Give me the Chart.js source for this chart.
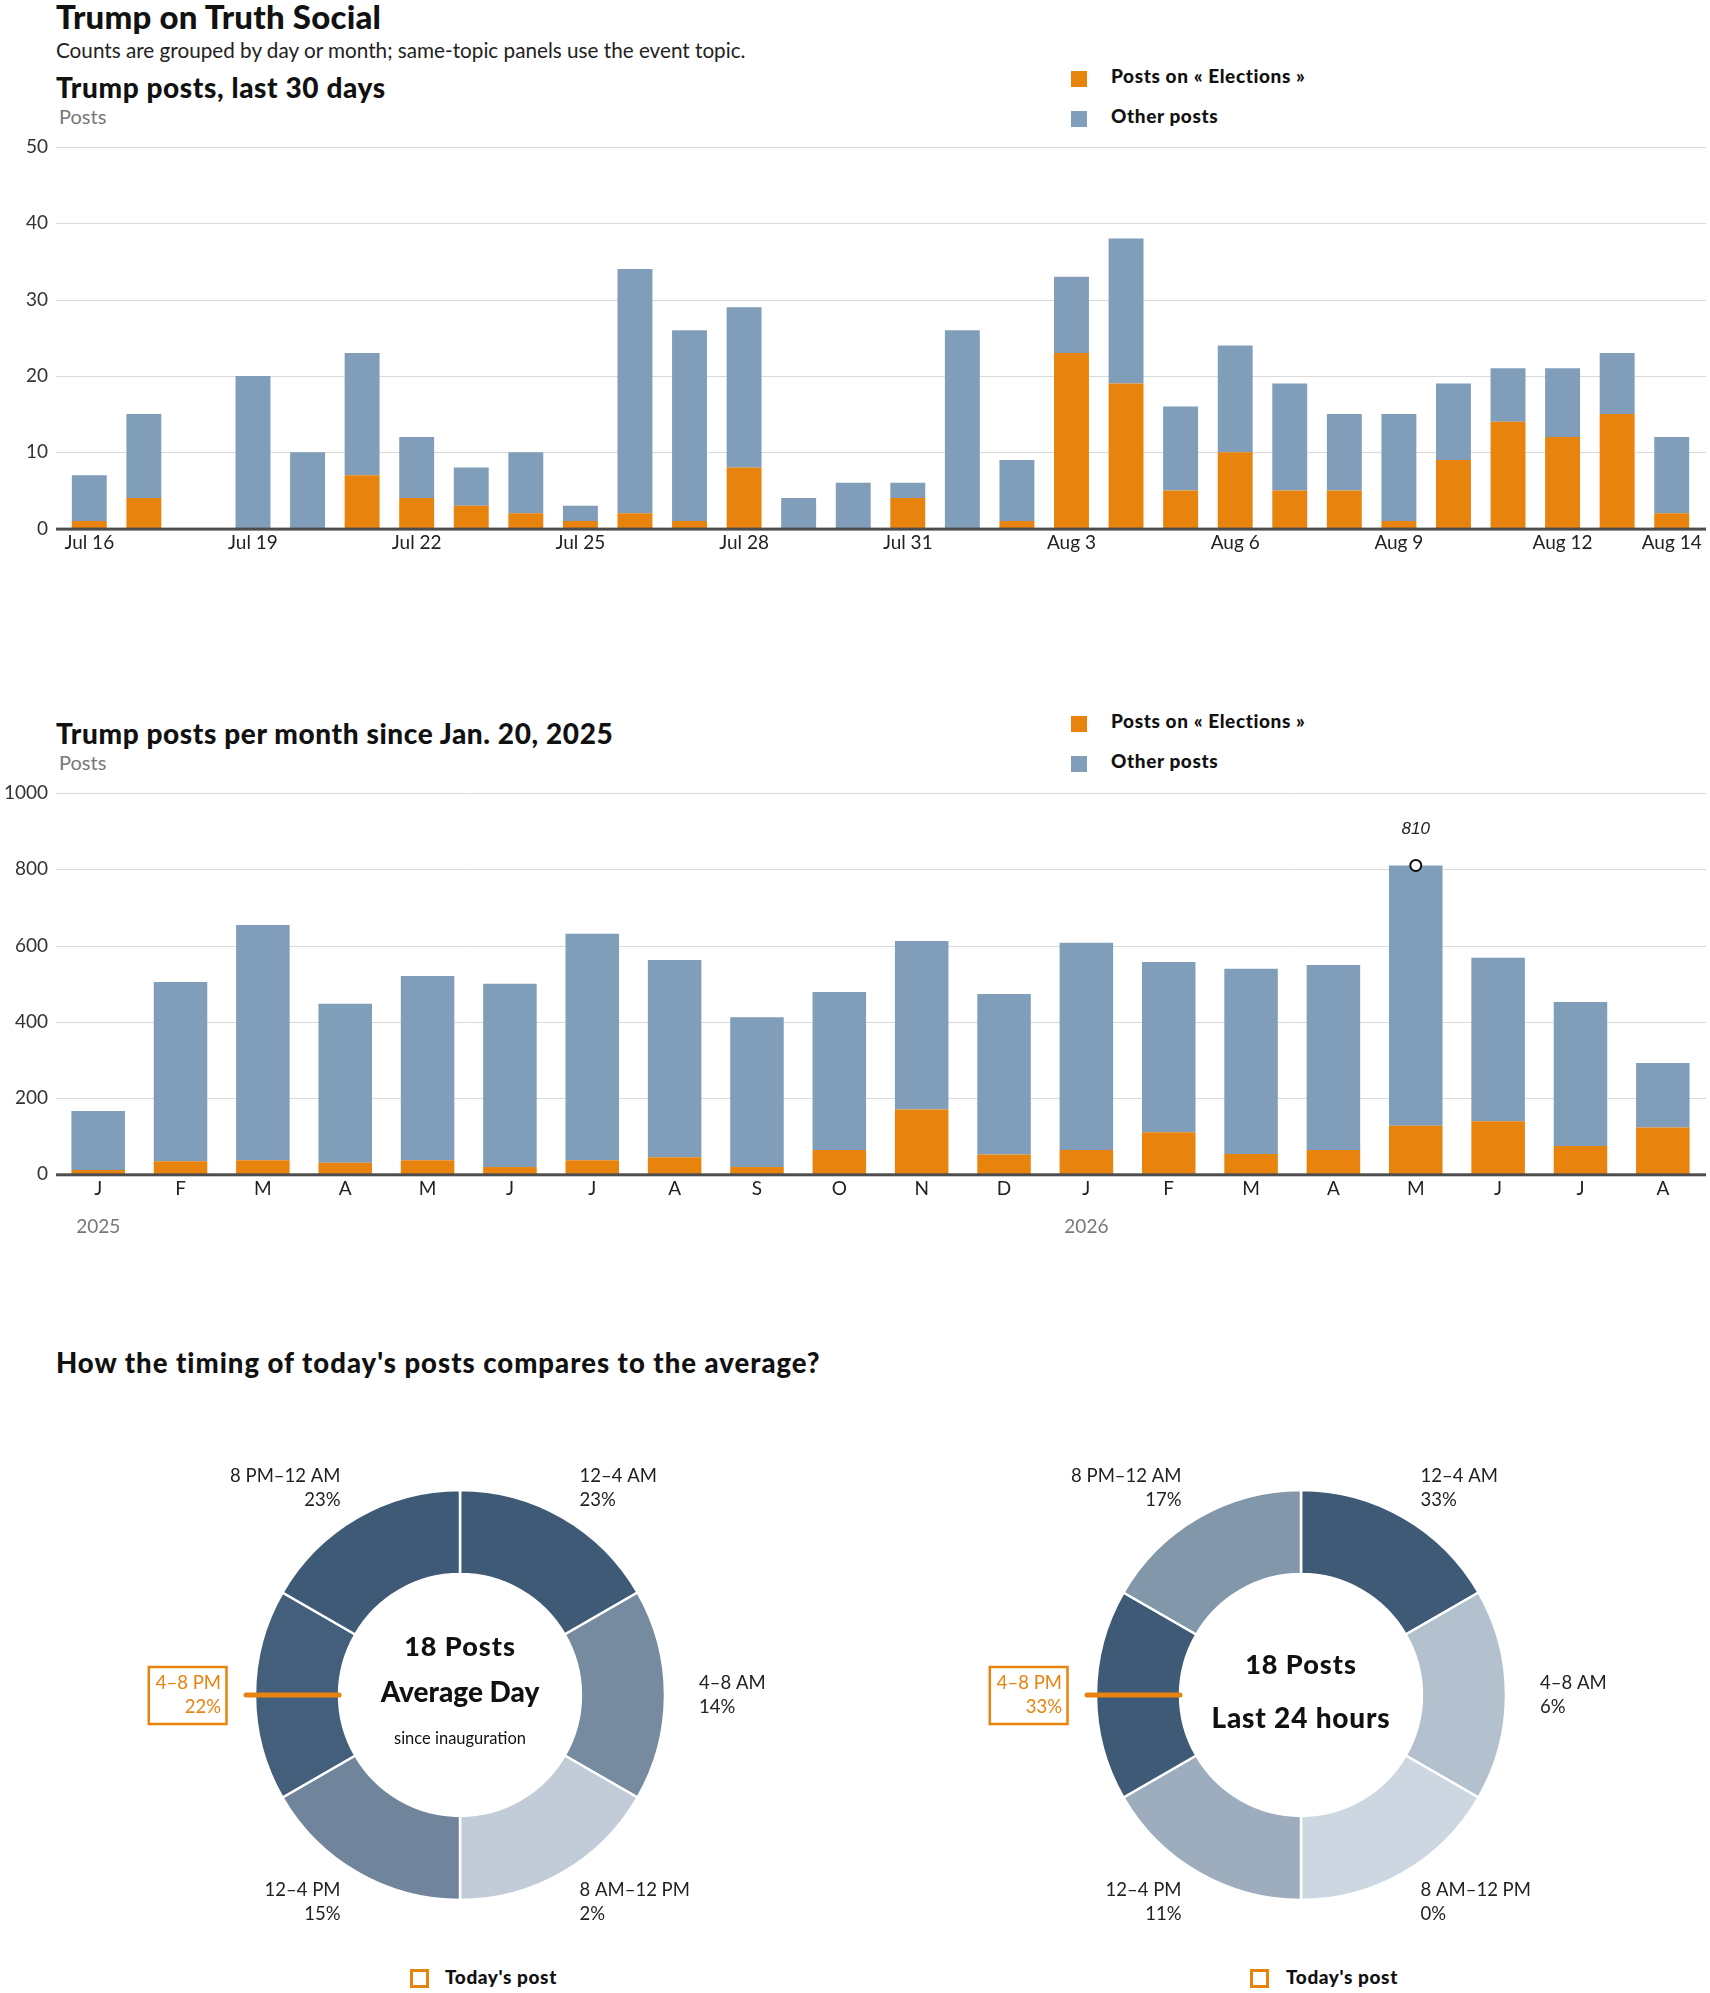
<!DOCTYPE html>
<html lang="en">
<head>
<meta charset="UTF-8">
<title>Trump on Truth Social</title>
<script src="https://cdn.jsdelivr.net/npm/chart.js@4.4.1/dist/chart.umd.min.js"></script>
<style>
  body { margin: 0; background: #fff; font-family: Lato, "Liberation Sans", sans-serif; color: #111; }
  #page { position: relative; width: 1710px; height: 1993px; overflow: hidden; }
  .t { position: absolute; white-space: nowrap; line-height: 30px; height: 30px; }
  .h1 { font-weight: 900; font-size: 33px; letter-spacing: 0.2px; }
  .h2 { font-weight: 900; font-size: 28px; letter-spacing: 0.6px; }
  .h3 { font-weight: 900; font-size: 27.5px; letter-spacing: 1px; }
  .sub { font-size: 20.7px; color: #222; }
  .axis { font-size: 20px; color: #777; }
  .leg { font-weight: 900; font-size: 19px; letter-spacing: 0.6px; }
  .sq { position: absolute; width: 16px; height: 16px; }
  .box { position: absolute; width: 13px; height: 13px; border: 3px solid #e8830e; }
  canvas { position: absolute; }
</style>
</head>
<body>
<div id="page">
  <div class="t h1" style="left:56px; top:1px;">Trump on Truth Social</div>
  <div class="t sub" style="left:56px; top:35px;">Counts are grouped by day or month; same-topic panels use the event topic.</div>

  <div class="t h2" style="left:56px; top:72px;">Trump posts, last 30 days</div>
  <div class="t axis" style="left:59px; top:101px;">Posts</div>
  <div class="sq" style="left:1071px; top:71px; background:#e8830e;"></div>
  <div class="t leg" style="left:1111px; top:61px;">Posts on « Elections »</div>
  <div class="sq" style="left:1071px; top:111px; background:#809eb9;"></div>
  <div class="t leg" style="left:1111px; top:101px;">Other posts</div>
  <canvas id="daily" width="1710" height="440" style="left:0; top:120px;"></canvas>

  <div class="t h2" style="left:56px; top:718px;">Trump posts per month since Jan. 20, 2025</div>
  <div class="t axis" style="left:59px; top:747px;">Posts</div>
  <div class="sq" style="left:1071px; top:716px; background:#e8830e;"></div>
  <div class="t leg" style="left:1111px; top:706px;">Posts on « Elections »</div>
  <div class="sq" style="left:1071px; top:756px; background:#809eb9;"></div>
  <div class="t leg" style="left:1111px; top:746px;">Other posts</div>
  <canvas id="monthly" width="1710" height="480" style="left:0; top:770px;"></canvas>

  <div class="t h3" style="left:56px; top:1348px;">How the timing of today's posts compares to the average?</div>
  <canvas id="avgDonut" width="760" height="520" style="left:80px; top:1435px;"></canvas>
  <canvas id="todayDonut" width="760" height="520" style="left:921px; top:1435px;"></canvas>
  <div class="box" style="left:410px; top:1969px;"></div>
  <div class="t leg" style="left:445px; top:1962px;">Today's post</div>
  <div class="box" style="left:1250px; top:1969px;"></div>
  <div class="t leg" style="left:1286px; top:1962px;">Today's post</div>
</div>

<script>
// ---- data ----
const dayLabels = ['Jul 16','Jul 17','Jul 18','Jul 19','Jul 20','Jul 21','Jul 22','Jul 23','Jul 24','Jul 25',
  'Jul 26','Jul 27','Jul 28','Jul 29','Jul 30','Jul 31','Aug 1','Aug 2','Aug 3','Aug 4',
  'Aug 5','Aug 6','Aug 7','Aug 8','Aug 9','Aug 10','Aug 11','Aug 12','Aug 13','Aug 14'];
const dayTotal = [7,15,0,20,10,23,12,8,10,3,34,26,29,4,6,6,26,9,33,38,16,24,19,15,15,19,21,21,23,12];
const dayElections = [1,4,0,0,0,7,4,3,2,1,2,1,8,0,0,4,0,1,23,19,5,10,5,5,1,9,14,12,15,2];

const monthLabels = ['J','F','M','A','M','J','J','A','S','O','N','D','J','F','M','A','M','J','J','A'];
const yearStarts = [[0, '2025'], [12, '2026']];
const monthTotal = [166,504,654,447,520,500,631,562,412,478,612,473,607,557,539,549,810,568,452,292];
const monthElections = [11,34,37,30,37,19,37,45,19,64,170,52,64,110,53,64,127,139,74,123];

const timeBins = ['12–4 AM','4–8 AM','8 AM–12 PM','12–4 PM','4–8 PM','8 PM–12 AM'];
const binHours = [4,4,4,4,4,4];
const avgShare = [23,14,2,15,22,23];
const last24Share = [33,6,0,11,33,17];
const todayBin = '4–8 PM';
const avgDayPosts = 18;
const last24Posts = 18;

const ORANGE = '#e8830e';
const BLUE = '#809eb9';

Chart.defaults.font.family = 'Lato, "Liberation Sans", sans-serif';
Chart.defaults.color = '#222';

// grid lines run a bit wider than the bars, plus the dark zero line
const gridSpan = {
  id: 'gridSpan',
  beforeDatasetsDraw(chart, args, opts) {
    const y = chart.scales.y, ctx = chart.ctx;
    ctx.save();
    ctx.strokeStyle = '#dadada';
    ctx.lineWidth = 1;
    y.ticks.forEach(t => {
      if (t.value === 0) return;
      const py = Math.round(y.getPixelForValue(t.value)) + 0.5;
      ctx.beginPath(); ctx.moveTo(opts.left, py); ctx.lineTo(opts.right, py); ctx.stroke();
    });
    ctx.restore();
  },
  afterDatasetsDraw(chart, args, opts) {
    const ctx = chart.ctx;
    const y0 = chart.scales.y.getPixelForValue(0);
    ctx.save();
    ctx.fillStyle = '#4d4d4d';
    ctx.fillRect(opts.left, y0 - 1, opts.right - opts.left, 3);
    ctx.restore();
  }
};

const yearLabels = {
  id: 'yearLabels',
  afterDraw(chart, args, opts) {
    const ctx = chart.ctx, x = chart.scales.x;
    ctx.save();
    ctx.fillStyle = '#777';
    ctx.font = '19px Lato, sans-serif';
    ctx.textAlign = 'center';
    ctx.textBaseline = 'middle';
    opts.marks.forEach(([i, txt]) => ctx.fillText(txt, x.getPixelForValue(i), opts.y));
    ctx.restore();
  }
};

const peakMark = {
  id: 'peakMark',
  afterDatasetsDraw(chart) {
    const ctx = chart.ctx;
    const i = monthTotal.indexOf(Math.max(...monthTotal));
    const px = chart.scales.x.getPixelForValue(i);
    const py = chart.scales.y.getPixelForValue(monthTotal[i]);
    ctx.save();
    ctx.beginPath();
    ctx.arc(px, py, 5.5, 0, Math.PI * 2);
    ctx.fillStyle = '#fff';
    ctx.fill();
    ctx.lineWidth = 2;
    ctx.strokeStyle = '#111';
    ctx.stroke();
    ctx.fillStyle = '#222';
    ctx.font = 'italic 17px "Liberation Sans Narrow", "Liberation Sans", sans-serif';
    ctx.textAlign = 'center';
    ctx.textBaseline = 'middle';
    ctx.fillText(String(monthTotal[i]), px, py - 36);
    ctx.restore();
  }
};

function barChart(id, labels, total, elections, yMax, yStep, opts) {
  const other = total.map((v, i) => v - elections[i]);
  return new Chart(document.getElementById(id), {
    type: 'bar',
    data: {
      labels: labels,
      datasets: [
        { label: 'Posts on « Elections »', data: elections, backgroundColor: ORANGE },
        { label: 'Other posts', data: other, backgroundColor: BLUE }
      ]
    },
    options: {
      responsive: false,
      animation: false,
      layout: { padding: { top: opts.top, right: opts.right, left: 0, bottom: 0 } },
      datasets: { bar: { categoryPercentage: 1, barPercentage: opts.barPct, borderWidth: 0 } },
      scales: {
        x: {
          stacked: true,
          grid: { display: false, drawTicks: false },
          border: { display: false },
          afterFit: s => { s.height = opts.xHeight; },
          ticks: {
            autoSkip: false, maxRotation: 0, padding: 3,
            font: { size: 19 }, color: '#222',
            callback: opts.tick
          }
        },
        y: {
          stacked: true,
          min: 0, max: yMax,
          grid: { display: false, drawTicks: false },
          border: { display: false },
          afterFit: s => { s.width = opts.yWidth; },
          ticks: { stepSize: yStep, padding: opts.yWidth - 48, font: { size: 19 }, color: '#333', callback: v => String(v) }
        }
      },
      plugins: {
        legend: { display: false },
        tooltip: { enabled: false },
        gridSpan: { left: 56, right: 1706 },
        yearLabels: { marks: yearStarts, y: 457 }
      }
    },
    plugins: opts.plugins
  });
}

barChart('daily', dayLabels, dayTotal, dayElections, 50, 10, {
  top: 27, right: 11, xHeight: 31.4, yWidth: 62, barPct: 0.64,
  tick: (v, i) => (i % 3 === 0 || i === dayLabels.length - 1) ? dayLabels[i] : '',
  plugins: [gridSpan]
});

barChart('monthly', monthLabels, monthTotal, monthElections, 1000, 200, {
  top: 23, right: 6, xHeight: 75.7, yWidth: 57, barPct: 0.65,
  tick: (v, i) => monthLabels[i],
  plugins: [gridSpan, yearLabels, peakMark]
});

// ---- donuts ----
function shade(v, max) {
  const light = [205, 215, 225], dark = [62, 90, 118];
  const t = max ? v / max : 0;
  return 'rgb(' + light.map((c, k) => Math.round(c + (dark[k] - c) * t)).join(',') + ')';
}

const ringLabels = {
  id: 'ringLabels',
  afterDraw(chart, args, opts) {
    const ctx = chart.ctx;
    const meta = chart.getDatasetMeta(0);
    ctx.save();
    meta.data.forEach((arc, i) => {
      const mid = (arc.startAngle + arc.endAngle) / 2;
      const r = arc.outerRadius + 34;
      const x = arc.x + Math.cos(mid) * r;
      const y = arc.y + Math.sin(mid) * r;
      const isToday = timeBins[i] === todayBin;
      const lines = [timeBins[i], opts.shares[i] + '%'];
      ctx.font = '18.5px Lato, sans-serif';
      ctx.textBaseline = 'middle';
      ctx.textAlign = Math.cos(mid) > 0.01 ? 'left' : 'right';
      ctx.fillStyle = isToday ? ORANGE : '#222';
      ctx.fillText(lines[0], x, y - 12);
      ctx.fillText(lines[1], x, y + 12.5);
      if (isToday) {
        const w = Math.max(...lines.map(l => ctx.measureText(l).width));
        ctx.strokeStyle = ORANGE;
        ctx.lineWidth = 2.5;
        ctx.strokeRect(x - w - 7, y - 28, w + 12.5, 57);
        // today's marker across the ring
        ctx.beginPath();
        ctx.lineCap = 'round';
        ctx.lineWidth = 5;
        ctx.moveTo(arc.x + Math.cos(mid) * arc.innerRadius, arc.y + Math.sin(mid) * arc.innerRadius);
        ctx.lineTo(arc.x + Math.cos(mid) * (arc.outerRadius + 9), arc.y + Math.sin(mid) * (arc.outerRadius + 9));
        ctx.stroke();
      }
    });
    const cx = meta.data[0].x, cy = meta.data[0].y;
    ctx.fillStyle = '#111';
    ctx.textAlign = 'center';
    ctx.textBaseline = 'middle';
    opts.center.forEach(c => {
      ctx.font = c.font;
      ctx.letterSpacing = (c.ls || 0) + 'px';
      ctx.fillText(c.text, cx, cy + c.dy);
    });
    ctx.letterSpacing = '0px';
    ctx.restore();
  }
};

function donut(id, shares, center) {
  const max = Math.max(...shares);
  return new Chart(document.getElementById(id), {
    type: 'doughnut',
    data: {
      labels: timeBins,
      datasets: [{
        data: binHours,
        backgroundColor: shares.map(s => shade(s, max)),
        borderColor: '#fff',
        borderWidth: 2.5
      }]
    },
    options: {
      responsive: false,
      animation: false,
      radius: 205,
      cutout: '59%',
      plugins: {
        legend: { display: false },
        tooltip: { enabled: false },
        ringLabels: { shares: shares, center: center }
      }
    },
    plugins: [ringLabels]
  });
}

donut('avgDonut', avgShare, [
  { text: avgDayPosts + ' Posts', font: '900 27px Lato, sans-serif', dy: -48, ls: 1 },
  { text: 'Average Day', font: '900 28px Lato, sans-serif', dy: -2.5 },
  { text: 'since inauguration', font: '16.5px Lato, sans-serif', dy: 43.5 }
]);
donut('todayDonut', last24Share, [
  { text: last24Posts + ' Posts', font: '900 27px Lato, sans-serif', dy: -29.5, ls: 1 },
  { text: 'Last 24 hours', font: '900 28px Lato, sans-serif', dy: 24, ls: 0.8 }
]);
</script>
</body>
</html>
